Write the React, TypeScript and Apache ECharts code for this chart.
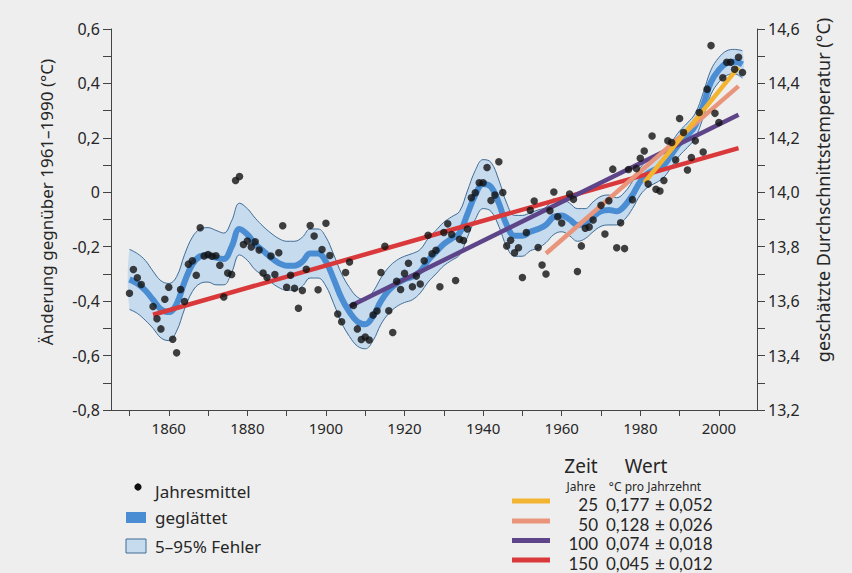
import React, { useEffect, useRef } from "react";
import * as echarts from "echarts";

// ---------- data ----------
const years: number[] = [];
for (let y = 1850; y <= 2006; y++) years.push(y);

const annualMeans: (number | null)[] = [
  -0.371, -0.284, -0.314, -0.339, null, null, -0.42, -0.465, -0.502, -0.393, // 1850-1859
  -0.349, -0.54, -0.59, -0.357, -0.401, -0.264, -0.252, -0.305, -0.13, -0.234, // 1860-1869
  -0.229, -0.235, -0.233, -0.268, -0.385, -0.297, -0.302, 0.043, 0.058, -0.192, // 1870-1879
  -0.179, -0.201, -0.182, -0.212, -0.297, -0.313, -0.234, -0.302, -0.222, -0.123, // 1880-1889
  -0.349, -0.305, -0.353, -0.426, -0.361, -0.283, -0.122, -0.161, -0.358, -0.21, // 1890-1899
  -0.114, -0.232, null, -0.447, -0.476, -0.295, -0.256, -0.416, -0.502, -0.541, // 1900-1909
  -0.532, -0.543, -0.451, -0.436, -0.295, -0.198, -0.435, -0.515, -0.327, -0.357, // 1910-1919
  -0.298, -0.261, -0.347, -0.308, -0.337, -0.252, -0.158, -0.226, -0.213, -0.347, // 1920-1929
  -0.148, -0.116, -0.155, -0.324, -0.173, -0.177, -0.135, -0.02, -0.002, 0.035, // 1930-1939
  0.035, 0.091, -0.03, -0.01, 0.112, -0.001, -0.197, -0.176, -0.222, -0.204, // 1940-1949
  -0.313, -0.148, -0.066, -0.032, -0.203, -0.267, -0.3, -0.068, 0.001, -0.09, // 1950-1959
  -0.113, null, -0.006, -0.026, -0.291, -0.197, -0.132, -0.128, -0.102, null, // 1960-1969
  -0.048, -0.153, -0.031, 0.085, -0.204, -0.112, -0.207, 0.084, -0.027, 0.087, // 1970-1979
  0.125, 0.152, 0.03, 0.207, 0.011, 0.005, 0.043, 0.189, 0.183, 0.119, // 1980-1989
  0.271, 0.22, 0.082, 0.128, 0.189, 0.293, 0.148, 0.379, 0.539, 0.29, // 1990-1999
  0.256, 0.421, 0.478, 0.478, 0.452, 0.496, 0.44, // 2000-2006
];

const smoothYears: number[] = [
  1850, 1852, 1854, 1856, 1858, 1860, 1862, 1864, 1866, 1868, 1870, 1872, 1874, 1876, 1878,
  1880, 1882, 1884, 1886, 1888, 1890, 1892, 1894, 1896, 1898, 1900, 1902, 1904, 1906, 1908,
  1910, 1912, 1914, 1916, 1918, 1920, 1922, 1924, 1926, 1928, 1930, 1932, 1934, 1936, 1938,
  1940, 1942, 1944, 1946, 1948, 1950, 1952, 1954, 1956, 1958, 1960, 1962, 1964, 1966, 1968,
  1970, 1972, 1974, 1976, 1978, 1980, 1982, 1984, 1986, 1988, 1990, 1992, 1994, 1996, 1998,
  2000, 2002, 2004, 2006,
];
const smoothed: number[] = [
  -0.32, -0.335, -0.36, -0.395, -0.43, -0.44, -0.41, -0.33, -0.265, -0.235, -0.23, -0.24, -0.245, -0.2, -0.135,
  -0.155, -0.19, -0.215, -0.24, -0.26, -0.27, -0.27, -0.255, -0.225, -0.225, -0.255, -0.32, -0.39, -0.44, -0.475,
  -0.485, -0.455, -0.4, -0.36, -0.335, -0.32, -0.31, -0.29, -0.25, -0.22, -0.19, -0.17, -0.15, -0.08, -0.01,
  0.03, 0.02, -0.04, -0.12, -0.16, -0.16, -0.145, -0.135, -0.12, -0.09, -0.085, -0.1, -0.12, -0.115, -0.09,
  -0.07, -0.065, -0.07, -0.05, -0.01, 0.04, 0.07, 0.085, 0.1, 0.14, 0.18, 0.21, 0.245, 0.32, 0.405,
  0.45, 0.475, 0.48, 0.47,
];
const bandUpper: number[] = [
  -0.21, -0.225, -0.25, -0.29, -0.325, -0.335, -0.31, -0.23, -0.165, -0.135, -0.13, -0.14, -0.15, -0.105, -0.04,
  -0.06, -0.095, -0.125, -0.15, -0.17, -0.18, -0.18, -0.165, -0.135, -0.135, -0.165, -0.23, -0.3, -0.35, -0.385,
  -0.395, -0.365, -0.315, -0.275, -0.25, -0.235, -0.225, -0.21, -0.17, -0.14, -0.11, -0.09, -0.07, 0.005, 0.08,
  0.12, 0.11, 0.045, -0.04, -0.085, -0.085, -0.075, -0.065, -0.055, -0.025, -0.025, -0.04, -0.06, -0.06, -0.035,
  -0.015, -0.01, -0.02, 0.0, 0.04, 0.09, 0.12, 0.135, 0.145, 0.185, 0.225, 0.255, 0.29, 0.365, 0.45,
  0.495, 0.52, 0.525, 0.52,
];
const bandLower: number[] = [
  -0.43, -0.445, -0.47, -0.5, -0.535, -0.545, -0.51, -0.43, -0.365, -0.335, -0.33, -0.34, -0.34, -0.295, -0.23,
  -0.25, -0.285, -0.305, -0.33, -0.35, -0.36, -0.36, -0.345, -0.315, -0.315, -0.345, -0.41, -0.48, -0.53, -0.565,
  -0.575, -0.545, -0.485, -0.445, -0.42, -0.405, -0.395, -0.37, -0.33, -0.3, -0.27, -0.25, -0.23, -0.165, -0.1,
  -0.06, -0.07, -0.125, -0.2, -0.235, -0.235, -0.215, -0.205, -0.185, -0.155, -0.145, -0.16, -0.18, -0.17, -0.145,
  -0.125, -0.12, -0.12, -0.1, -0.06, -0.01, 0.02, 0.035, 0.055, 0.095, 0.135, 0.165, 0.2, 0.275, 0.36,
  0.405, 0.43, 0.435, 0.42,
];

// linear trends
const trendPeriods = [25, 50, 100, 150];
const trendRates = ["0,177", "0,128", "0,074", "0,045"];
const trendErrors = ["0,052", "0,026", "0,018", "0,012"];
const trendStartYears = [1981, 1956, 1906, 1856];
const trendStartValues = [0.035, -0.225, -0.42, -0.45];
const trendEndYears = [2005, 2005, 2005, 2005];
const trendEndValues = [0.46, 0.39, 0.285, 0.162];
const trendColors = ["#F2B431", "#E9957C", "#5E4488", "#D9393A"];

const xTicks = [1850, 1860, 1870, 1880, 1890, 1900, 1910, 1920, 1930, 1940, 1950, 1960, 1970, 1980, 1990, 2000];
const xLabels = [1860, 1880, 1900, 1920, 1940, 1960, 1980, 2000];
const leftTicks = [-0.8, -0.7, -0.6, -0.5, -0.4, -0.3, -0.2, -0.1, 0, 0.1, 0.2, 0.3, 0.4, 0.5, 0.6];
const leftLabels = [-0.8, -0.6, -0.4, -0.2, 0, 0.2, 0.4, 0.6];
const rightTicks = [13.2, 13.3, 13.4, 13.5, 13.6, 13.7, 13.8, 13.9, 14.0, 14.1, 14.2, 14.3, 14.4, 14.5, 14.6];
const rightLabels = [13.2, 13.4, 13.6, 13.8, 14.0, 14.2, 14.4, 14.6];

const FONT = "'Noto Sans', 'Open Sans', sans-serif";
const ROW_FONT = "Lato, 'Noto Sans', sans-serif";
const TXT = "#262626";
const SMOOTH_COLOR = "#4A8DD2";
const BAND_FILL = "#C7DBEE";
const BAND_EDGE = "#3F6C95";

export default function App() {
  const ref = useRef<HTMLDivElement>(null);
  useEffect(() => {
    if (!ref.current) return;
    const chart = echarts.init(ref.current, undefined, { renderer: "svg" });

    const dots = years
      .map((y, i) => [y, annualMeans[i]])
      .filter((p) => p[1] !== null);
    const smoothData = smoothYears.map((y, i) => [y, smoothed[i]]);
    const upperData = smoothYears.map((y, i) => [y, bandUpper[i]]);
    const lowerData = smoothYears.map((y, i) => [y, bandLower[i]]);

    const trendSeries = trendPeriods
      .map((p, i) => ({
        type: "line",
        name: `${p} Jahre`,
        data: [
          [trendStartYears[i], trendStartValues[i]],
          [trendEndYears[i], trendEndValues[i]],
        ],
        symbol: "none",
        lineStyle: { color: trendColors[i], width: 4.5 },
        z: 6 + (trendPeriods.length - i),
        silent: true,
      }))
      .reverse();

    const fmtLeft = (v: number) => (Math.abs(v) < 1e-9 ? "0" : v.toFixed(1).replace(".", ","));
    const fmtRight = (v: number) => v.toFixed(1).replace(".", ",");

    const legendRows = [504, 524, 543.6, 563];
    const rowFont = `17px ${ROW_FONT}`;
    const graphic: any[] = [
      {
        type: "text",
        x: 46,
        y: 202,
        rotation: Math.PI / 2,
        style: {
          text: "Änderung gegnüber 1961–1990 (°C)",
          font: `17px ${FONT}`,
          fill: TXT,
          textAlign: "center",
          textVerticalAlign: "middle",
        },
      },
      {
        type: "text",
        x: 823,
        y: 190,
        rotation: Math.PI / 2,
        style: {
          text: "geschätzte Durchschnittstemperatur (°C)",
          font: `18px ${FONT}`,
          fill: TXT,
          textAlign: "center",
          textVerticalAlign: "middle",
        },
      },
      // left legend
      { type: "circle", shape: { cx: 138, cy: 487, r: 3.6 }, style: { fill: "#111" } },
      { type: "text", x: 155, y: 491, style: { text: "Jahresmittel", font: `17px ${FONT}`, fill: TXT, textVerticalAlign: "middle" } },
      { type: "rect", shape: { x: 126, y: 512, width: 20, height: 11 }, style: { fill: SMOOTH_COLOR } },
      { type: "text", x: 155, y: 517, style: { text: "geglättet", font: `17px ${FONT}`, fill: TXT, textVerticalAlign: "middle" } },
      { type: "rect", shape: { x: 126, y: 539, width: 20, height: 14 }, style: { fill: BAND_FILL, stroke: BAND_EDGE, lineWidth: 1 } },
      { type: "text", x: 155, y: 546, style: { text: "5–95% Fehler", font: `17px ${FONT}`, fill: TXT, textVerticalAlign: "middle" } },
      // right legend headers
      { type: "text", x: 581, y: 466, style: { text: "Zeit", font: `19px ${FONT}`, fill: TXT, textAlign: "center", textVerticalAlign: "middle" } },
      { type: "text", x: 646, y: 466, style: { text: "Wert", font: `19px ${FONT}`, fill: TXT, textAlign: "center", textVerticalAlign: "middle" } },
      { type: "text", x: 581, y: 486, style: { text: "Jahre", font: `12px ${FONT}`, fill: TXT, textAlign: "center", textVerticalAlign: "middle" } },
      { type: "text", x: 655, y: 486, style: { text: "°C pro Jahrzehnt", font: `12px ${FONT}`, fill: TXT, textAlign: "center", textVerticalAlign: "middle" } },
    ];
    trendPeriods.forEach((p, i) => {
      const y = legendRows[i];
      graphic.push(
        { type: "line", shape: { x1: 512, y1: y - 3, x2: 550, y2: y - 3 }, style: { stroke: trendColors[i], lineWidth: 5 } },
        { type: "text", x: 598, y, style: { text: String(p), font: rowFont, fill: TXT, textAlign: "right", textVerticalAlign: "middle" } },
        { type: "text", x: 606, y, style: { text: trendRates[i], font: rowFont, fill: TXT, textVerticalAlign: "middle" } },
        { type: "text", x: 655, y, style: { text: "± " + trendErrors[i], font: rowFont, fill: TXT, textVerticalAlign: "middle" } }
      );
    });

    chart.setOption({
      animation: false,
      backgroundColor: "#EEEEEE",
      textStyle: { fontFamily: FONT },
      grid: { left: 111, right: 95, top: 29, bottom: 163 },
      xAxis: {
        type: "value",
        min: 1845.3,
        max: 2009.7,
        axisLine: { show: true, onZero: false, lineStyle: { color: "#444", width: 1 } },
        axisTick: { show: true, customValues: xTicks, length: 6, lineStyle: { color: "#444" } },
        axisLabel: {
          customValues: xLabels,
          formatter: (v: number) => String(v),
          color: TXT,
          fontSize: 15,
          margin: 10,
          fontFamily: FONT,
        },
        splitLine: { show: false },
      },
      yAxis: [
        {
          type: "value",
          min: -0.8,
          max: 0.6,
          interval: 0.2,
          position: "left",
          axisLine: { show: true, onZero: false, lineStyle: { color: "#444", width: 1 } },
          axisTick: { show: true, customValues: leftTicks, length: 8, lineStyle: { color: "#444" } },
          axisLabel: { customValues: leftLabels, formatter: fmtLeft, color: TXT, fontSize: 16, margin: 11, fontFamily: FONT },
          splitLine: { show: false },
        },
        {
          type: "value",
          min: 13.2,
          max: 14.6,
          position: "right",
          axisLine: { show: true, onZero: false, lineStyle: { color: "#444", width: 1 } },
          axisTick: { show: true, customValues: rightTicks, length: 8, lineStyle: { color: "#444" } },
          axisLabel: { customValues: rightLabels, formatter: fmtRight, color: TXT, fontSize: 16, margin: 11, fontFamily: FONT },
          splitLine: { show: false },
        },
      ],
      graphic,
      series: [
        {
          type: "custom",
          name: "5–95% Fehler",
          silent: true,
          z: 1,
          data: [[smoothYears[0], smoothed[0]]],
          renderItem: (_params: any, api: any) => {
            const pts: number[][] = [];
            for (let i = 0; i < smoothYears.length; i++) pts.push(api.coord([smoothYears[i], bandUpper[i]]));
            for (let i = smoothYears.length - 1; i >= 0; i--) pts.push(api.coord([smoothYears[i], bandLower[i]]));
            return {
              type: "polygon",
              shape: { points: pts, smooth: 0.35 },
              style: { fill: BAND_FILL, stroke: "none" },
            };
          },
        },
        {
          type: "line",
          name: "upper",
          data: upperData,
          smooth: 0.4,
          symbol: "none",
          lineStyle: { color: BAND_EDGE, width: 1 },
          z: 2,
          silent: true,
        },
        {
          type: "line",
          name: "lower",
          data: lowerData,
          smooth: 0.4,
          symbol: "none",
          lineStyle: { color: BAND_EDGE, width: 1 },
          z: 2,
          silent: true,
        },
        {
          type: "line",
          name: "geglättet",
          data: smoothData,
          smooth: 0.4,
          symbol: "none",
          lineStyle: { color: SMOOTH_COLOR, width: 6 },
          z: 3,
          silent: true,
        },
        ...trendSeries,
        {
          type: "scatter",
          name: "Jahresmittel",
          data: dots,
          symbol: "circle",
          symbolSize: 7.5,
          itemStyle: { color: "#111" },
          z: 20,
          silent: true,
        },
      ],
    });
    return () => chart.dispose();
  }, []);
  return <div ref={ref} style={{ position: "fixed", left: 0, top: 0, width: 852, height: 573 }} />;
}
